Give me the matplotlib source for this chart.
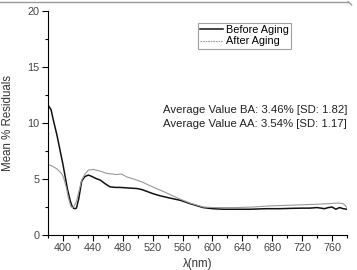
import numpy as np
import matplotlib
matplotlib.use("Agg")
import matplotlib.pyplot as plt
from matplotlib.ticker import MultipleLocator

plt.rcParams['font.family'] = ['Liberation Sans', 'DejaVu Sans']

# wavelength samples (nm) and mean % residuals
wl_ba = [380, 384, 387, 392, 396, 400, 403, 406, 409.5, 412, 414, 416, 418, 421, 425, 429, 432, 434, 438,
         444, 450, 457, 463, 470, 476, 487, 499, 506, 512, 520, 530, 543, 557, 570, 580, 587.5, 600, 615,
         632, 650, 672, 690, 705, 721, 730, 740, 750, 755, 760, 765, 770, 775, 780]
before_aging = [11.6, 11.2, 10.3, 8.9, 7.6, 6.3, 5.2, 4.1, 3.1, 2.6, 2.4, 2.35, 2.4, 3.2, 4.8, 5.2, 5.3, 5.35, 5.25,
                5.05, 4.9, 4.55, 4.3, 4.25, 4.25, 4.2, 4.15, 4.05, 3.9, 3.7, 3.5, 3.3, 3.1, 2.8, 2.6, 2.45, 2.35,
                2.3, 2.3, 2.3, 2.35, 2.35, 2.38, 2.4, 2.4, 2.45, 2.35, 2.45, 2.5, 2.3, 2.45, 2.35, 2.3]

wl_aa = [380, 384, 387, 392, 398, 401, 403, 405, 407, 409, 411, 413, 415, 418, 421, 425, 429, 434, 441,
         450, 458.6, 465, 472, 478, 485, 492, 499, 507, 516.5, 525, 534, 545, 557, 570, 580, 587.5, 601,
         615, 632, 655, 677, 700, 721, 740, 757, 765, 770, 775, 778, 780]
after_aging = [6.3, 6.2, 6.1, 5.9, 5.5, 5.1, 4.6, 4.1, 3.4, 2.9, 2.5, 2.45, 2.6, 3.0, 3.8, 4.9, 5.4, 5.8, 5.85,
               5.7, 5.5, 5.45, 5.4, 5.45, 5.2, 5.05, 4.9, 4.7, 4.4, 4.15, 3.9, 3.55, 3.2, 2.85, 2.65, 2.5, 2.45,
               2.45, 2.45, 2.5, 2.6, 2.65, 2.7, 2.75, 2.8, 2.85, 2.85, 2.8, 2.6, 2.45]

stats_text = ["Average Value BA: 3.46% [SD: 1.82]",
              "Average Value AA: 3.54% [SD: 1.17]"]

fig = plt.figure(figsize=(3.57, 2.70), dpi=100)
ax = fig.add_axes([0.1345, 0.1296, 0.8375, 0.8296])

ax.plot(wl_ba, before_aging, color='#111111', lw=1.1, label='Before Aging')
ax.plot(wl_aa, after_aging, color='#999999', lw=0.8, label='After Aging')

ax.set_xlim(380, 780)
ax.set_ylim(0, 20)
ax.xaxis.set_minor_locator(MultipleLocator(20))
ax.yaxis.set_major_locator(MultipleLocator(5))
ax.yaxis.set_minor_locator(MultipleLocator(2.5))
ax.set_xticks(np.arange(400, 761, 40))

for s in ['top', 'right']:
    ax.spines[s].set_visible(False)
for s in ['left', 'bottom']:
    ax.spines[s].set_linewidth(0.8)
ax.tick_params(which='major', direction='out', length=4, width=0.8, labelsize=7.8, labelcolor='#444444', pad=2)
ax.tick_params(which='minor', direction='out', length=2, width=0.8)

ax.set_xlabel('λ(nm)', fontsize=8.3, color='#333333', labelpad=3)
ax.set_ylabel('Mean % Residuals', fontsize=8.3, color='#333333', labelpad=10)

leg = ax.legend(loc='upper left', bbox_to_anchor=(0.502, 0.946), fontsize=7.8, frameon=True, fancybox=False,
                edgecolor='#888888', handlelength=2.1, handletextpad=0.3, borderpad=0.2, labelspacing=0.1,
                borderaxespad=0)
leg.get_frame().set_linewidth(0.8)
leg.get_lines()[1].set_linestyle((0, (1.5, 0.8)))

ax.text(534, 11.2, stats_text[0], fontsize=8.2, color='#222222', va='center')
ax.text(534, 9.9, stats_text[1], fontsize=8.2, color='#222222', va='center')

# faint frame remnant at top of the image
fig.add_artist(plt.Line2D([0, 0.975], [0.994, 0.994], transform=fig.transFigure, color='#999999', lw=1))
fig.add_artist(plt.Line2D([0.975, 0.985], [0.994, 0.982], transform=fig.transFigure, color='#999999', lw=1))

fig.savefig('out.png', dpi=100)
